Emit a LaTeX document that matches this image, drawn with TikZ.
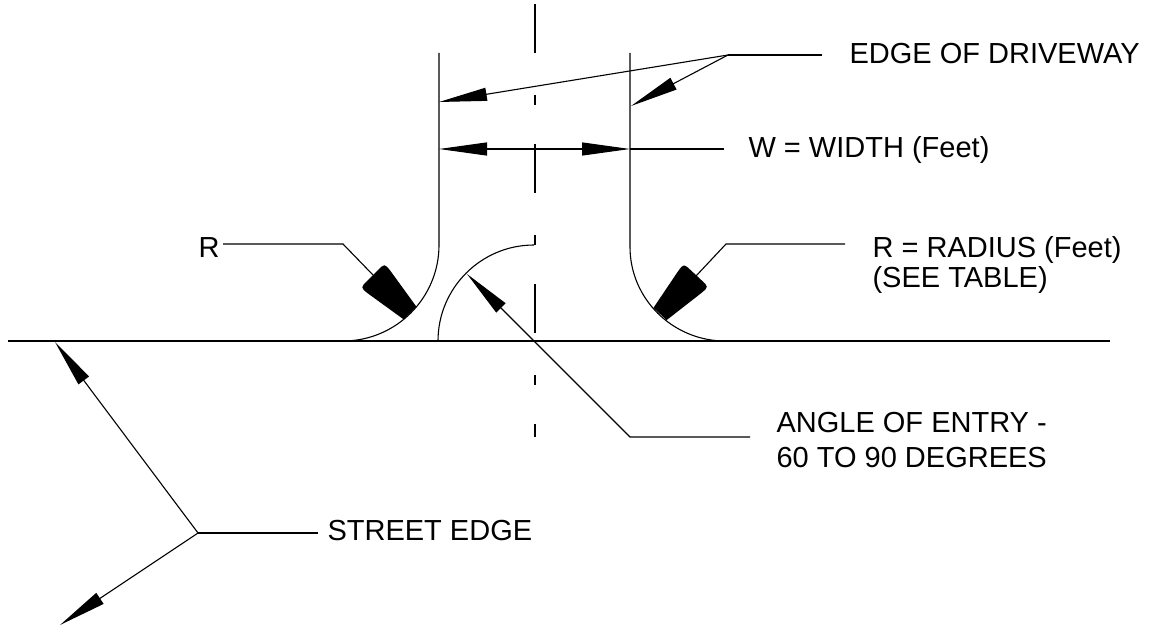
\documentclass[tikz,border=0pt]{standalone}
\usepackage{fontspec}
\setmainfont{Liberation Sans}
\usetikzlibrary{arrows.meta}
\tikzset{
  lbl/.style={inner sep=0pt, anchor=base west, font=\fontsize{29}{35}\selectfont},
  arw/.style={-{Triangle[length=48pt,width=13pt]}},
  darw/.style={{Triangle[length=48pt,width=13pt]}-{Triangle[length=48pt,width=13pt]}},
  cline/.style={dash pattern=on 49pt off 42pt on 10pt off 39pt},
}
% filled radius marker, tip at (#1,#2), pointing along #3
\newcommand{\radiusmark}[3]{%
  \fill[shift={(#1,#2)},rotate=#3] (0,-9) -- (-44,-16) .. controls (-53,-17) .. (-53,-7)
    -- (-53,7) .. controls (-53,17) .. (-44,16) -- (0,9) -- cycle;}

\begin{document}
\begin{tikzpicture}[x=1pt,y=-1pt,line width=1.1pt]
            \useasboundingbox (0,0) rectangle (1155,628);

            % street and driveway
            \coordinate (se1) at (8,341);
            \coordinate (se2) at (1110,341);
            \draw[line width=1.4pt] (se1) -- (se2);
            \draw (439,53) -- (439,245) .. controls (439,298) and (396,341) .. (343,341);
            \draw (630,53) -- (630,247) .. controls (630,299) and (673,341) .. (725,341);
            \draw (438,341) .. controls (438,288) and (481,245) .. (534,245);
            \coordinate (cl1) at (535,4);
            \coordinate (cl2) at (535,437);
            \draw[cline] (cl1) -- (cl2);

            % labels
            \node[lbl] (edgetxt) at (849,64) {EDGE OF DRIVEWAY};
            \node[lbl] (wtxt) at (748,158) {W = WIDTH (Feet)};
            \node[lbl] (rtxt) at (198,257) {R};
            \node[lbl] (radtxt) at (872,257) {R = RADIUS (Feet)};
            \node[lbl] (seetxt) at (872,287) {(SEE TABLE)};
            \node[lbl] (angtxt) at (776,432) {ANGLE OF ENTRY -};
            \node[lbl] (degtxt) at (776,467) {60 TO 90 DEGREES};
            \node[lbl] (sttxt) at (327,540) {STREET EDGE};

            % edge of driveway leaders
            \coordinate (edf) at (728,55);
            \coordinate (ede) at (822,55);
            \coordinate (edl) at (439,102);
            \coordinate (edr) at (631,106);
            \draw (edf) -- (ede);
            \draw[arw] (edf) -- (edl);
            \draw[arw] (edf) -- (edr);

            % width
            \coordinate (wl) at (439,149);
            \coordinate (wr) at (630,149);
            \coordinate (we) at (724,149);
            \draw[darw] (wl) -- (wr);
            \draw (wr) -- (we);

            % radius leaders
            \coordinate (rl1) at (223,244);
            \coordinate (rl2) at (343,244);
            \coordinate (rl3) at (373,275);
            \draw (rl1) -- (rl2) -- (rl3);
            \radiusmark{410}{313}{-45}
            \coordinate (rr1) at (845,244);
            \coordinate (rr2) at (726,244);
            \coordinate (rr3) at (696,276);
            \draw (rr1) -- (rr2) -- (rr3);
            \radiusmark{660}{314}{-133}

            % angle of entry
            \coordinate (ae1) at (750,437);
            \coordinate (ae2) at (630,437);
            \coordinate (ae3) at (467,274);
            \draw[arw] (ae1) -- (ae2) -- (ae3);

            % street edge
            \coordinate (sef) at (198,533);
            \coordinate (see) at (318,533);
            \coordinate (seu) at (55,342);
            \coordinate (sed) at (60,625);
            \draw (see) -- (sef);
            \draw[arw] (sef) -- (seu);
            \draw[arw] (sef) -- (sed);
          \end{tikzpicture}
\end{document}
